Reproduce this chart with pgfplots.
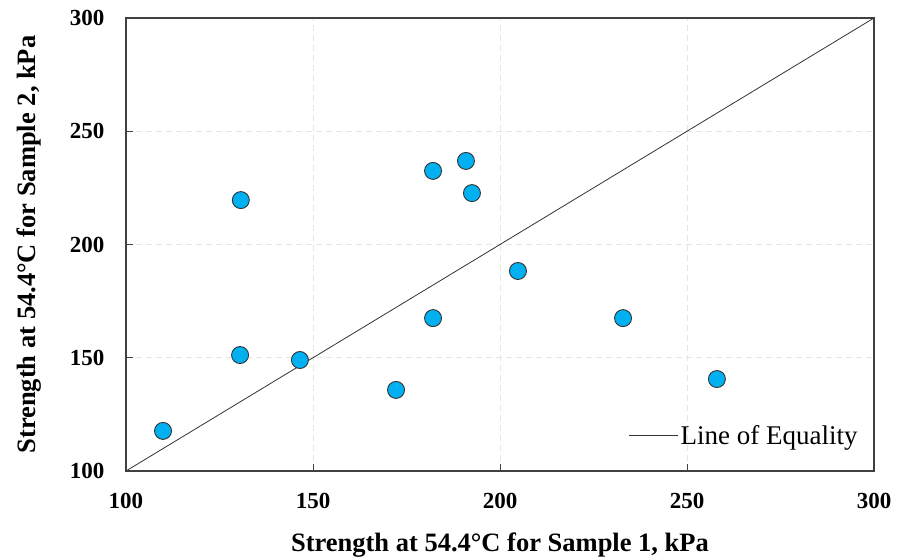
\documentclass[border=0pt]{standalone}
\usepackage{pgfplots}
\pgfplotsset{compat=1.18}
\usepackage{fontspec}
\setmainfont{Liberation Serif}
\definecolor{ptblue}{HTML}{00B0F0}
\definecolor{axgray}{HTML}{404040}
\begin{document}
\begin{tikzpicture}
\begin{axis}[
  scale only axis,
  width=748pt, height=453pt,
  xmin=100, xmax=300, ymin=100, ymax=300,
  xtick={100,150,200,250,300}, ytick={100,150,200,250,300},
  tick align=inside, xtick pos=bottom, ytick pos=left,
  major tick length=7pt,
  axis line style={axgray, line width=1.2pt},
  tick style={axgray, line width=1pt},
  grid=major,
  major grid style={dash pattern=on 6pt off 4pt, draw=black!10, line width=0.8pt},
  /pgf/number format/assume math mode=true,
  ticklabel style={font=\bfseries\fontsize{23}{27}\selectfont},
  xticklabel style={yshift=-19pt},
  yticklabel style={xshift=-18pt},
  xlabel={Strength at 54.4°C for Sample 1, kPa},
  ylabel={Strength at 54.4°C for Sample 2, kPa},
  label style={font=\bfseries\fontsize{26.5}{30}\selectfont},
  xlabel style={at={(axis description cs:0.5,0)}, anchor=north, yshift=-58pt},
  ylabel style={at={(axis description cs:0,0.5)}, anchor=south, yshift=81pt},
  legend style={draw=none, fill=none, at={(rel axis cs:0.985,0.047)}, anchor=south east, font=\fontsize{27}{31}\selectfont},
  legend cell align=left,
  legend image code/.code={\draw[#1] (0pt,0pt) -- (49pt,0pt);},
]
\addplot[black!80, line width=0.8pt] coordinates {(100,100) (300,300)};
\addlegendentry{Line of Equality}
\addplot[only marks, mark=*, mark size=8.5pt, mark options={fill=ptblue, draw=black!80, line width=0.9pt}, forget plot] coordinates {
(109.9,117.7)
(130.7,219.6)
(130.5,151.2)
(146.5,149.0)
(172.2,135.8)
(182.1,232.5)
(182.1,167.5)
(190.9,236.9)
(192.5,222.7)
(204.8,188.3)
(232.9,167.5)
(258.0,140.6)
};
\end{axis}
\pgfresetboundingbox
\useasboundingbox ([xshift=-126pt,yshift=-88pt]current axis.south west) rectangle ([xshift=23pt,yshift=18pt]current axis.north east);
\end{tikzpicture}
\end{document}
